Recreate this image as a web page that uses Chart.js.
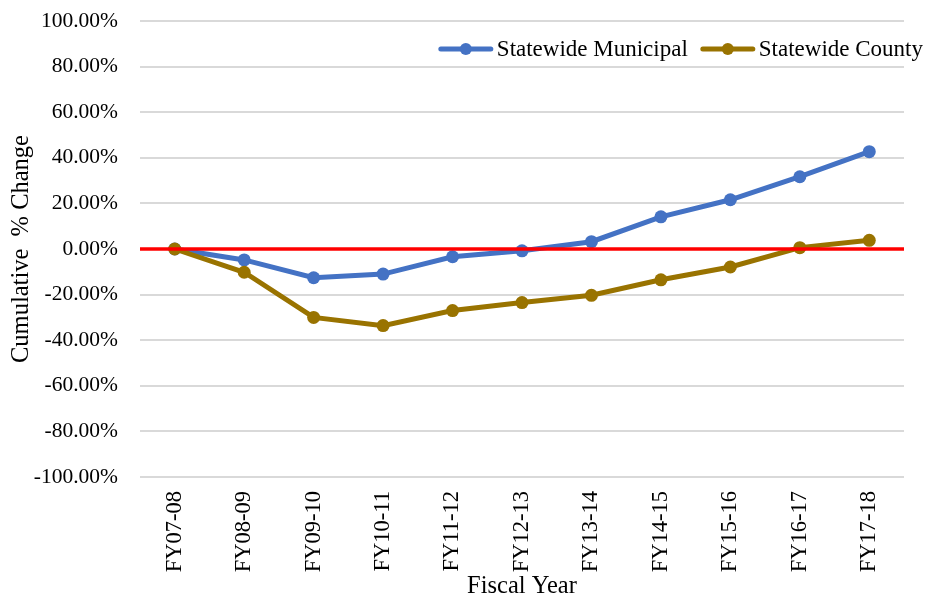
<!DOCTYPE html>
<html>
<head>
<meta charset="utf-8">
<script src="https://cdn.jsdelivr.net/npm/chart.js@4/dist/chart.umd.min.js"></script>
<style>
  html, body { margin: 0; padding: 0; background: #ffffff; }
  #wrap { width: 928px; height: 597px; position: relative; }
</style>
</head>
<body>
<div id="wrap"><canvas id="c" width="928" height="597"></canvas></div>
<script>
const categories = ["FY07-08","FY08-09","FY09-10","FY10-11","FY11-12","FY12-13","FY13-14","FY14-15","FY15-16","FY16-17","FY17-18"];
const municipal = [0, -4.8, -12.6, -11.0, -3.4, -0.8, 3.2, 14.1, 21.6, 31.7, 42.7];
const county = [0, -10.2, -30.0, -33.6, -27.0, -23.5, -20.3, -13.5, -7.9, 0.6, 3.8];
const seriesNames = ["Statewide Municipal", "Statewide County"];
const yTitle = "Cumulative  % Change";
const xTitle = "Fiscal Year";

const FONT = "'Liberation Serif', 'Times New Roman', serif";
const BLUE = "#4472C4";
const GOLD = "#997300";

const zeroLine = {
  id: 'zeroLine',
  afterDatasetsDraw(chart) {
    const y = chart.scales.y.getPixelForValue(0);
    const a = chart.chartArea;
    const ctx = chart.ctx;
    ctx.save();
    ctx.strokeStyle = '#FF0000';
    ctx.lineWidth = 3.5;
    ctx.beginPath();
    ctx.moveTo(a.left, y);
    ctx.lineTo(a.right, y);
    ctx.stroke();
    ctx.restore();
  }
};

const insideLegend = {
  id: 'insideLegend',
  afterDraw(chart) {
    const ctx = chart.ctx;
    ctx.save();
    ctx.font = "23px " + FONT;
    ctx.textBaseline = 'middle';
    const ds = chart.data.datasets;
    const sample = 54, gapText = 4, gapItem = 13;
    const widths = ds.map(d => ctx.measureText(d.label).width);
    let total = 0;
    widths.forEach((w, i) => { total += sample + gapText + w + (i ? gapItem : 0); });
    let x = 923 - total;
    const y = 49;
    ds.forEach((d, i) => {
      ctx.strokeStyle = d.borderColor;
      ctx.lineWidth = 5;
      ctx.lineCap = 'round';
      ctx.beginPath();
      ctx.moveTo(x + 2, y);
      ctx.lineTo(x + sample - 2, y);
      ctx.stroke();
      ctx.fillStyle = d.backgroundColor;
      ctx.beginPath();
      ctx.arc(x + sample / 2, y, 6, 0, Math.PI * 2);
      ctx.fill();
      ctx.fillStyle = '#000';
      ctx.fillText(d.label, x + sample + gapText, y + 1);
      x += sample + gapText + widths[i] + gapItem;
    });
    ctx.restore();
  }
};

new Chart(document.getElementById('c'), {
  type: 'line',
  data: {
    labels: categories,
    datasets: [
      {
        label: seriesNames[0],
        data: municipal,
        borderColor: BLUE,
        backgroundColor: BLUE,
        borderWidth: 5,
        pointRadius: 6.5,
        pointHoverRadius: 6.5,
        pointBorderWidth: 0,
        tension: 0,
        order: 1
      },
      {
        label: seriesNames[1],
        data: county,
        borderColor: GOLD,
        backgroundColor: GOLD,
        borderWidth: 5,
        pointRadius: 6.5,
        pointHoverRadius: 6.5,
        pointBorderWidth: 0,
        tension: 0,
        order: 0
      }
    ]
  },
  options: {
    responsive: false,
    animation: false,
    devicePixelRatio: 1,
    layout: { padding: { top: 21, right: 24, left: 0, bottom: 0 } },
    plugins: {
      legend: { display: false },
      tooltip: { enabled: false }
    },
    scales: {
      x: {
        type: 'category',
        offset: true,
        grid: { display: false, drawTicks: false },
        border: { display: false },
        ticks: {
          minRotation: 90,
          maxRotation: 90,
          autoSkip: false,
          padding: 14,
          color: '#000',
          font: { family: FONT, size: 22.5 }
        },
        title: {
          display: true,
          text: xTitle,
          color: '#000',
          font: { family: FONT, size: 24.5, lineHeight: 1 },
          padding: { top: 0, bottom: -2 }
        },
        afterFit(scale) { scale.height = 120; scale.paddingLeft = 0; scale.paddingRight = 0; }
      },
      y: {
        min: -100,
        max: 100,
        grid: { color: '#D9D9D9', lineWidth: 2, drawTicks: false },
        border: { display: false },
        ticks: {
          stepSize: 20,
          padding: 22,
          color: '#000',
          font: { family: FONT, size: 21.5 },
          callback: v => v.toFixed(2) + '%'
        },
        title: {
          display: true,
          text: yTitle,
          color: '#000',
          font: { family: FONT, size: 24.5, lineHeight: 1 },
          padding: { top: 9, bottom: 0 }
        },
        afterFit(scale) { scale.width = 140; scale.paddingTop = 0; scale.paddingBottom = 0; }
      }
    }
  },
  plugins: [zeroLine, insideLegend]
});
</script>
</body>
</html>
